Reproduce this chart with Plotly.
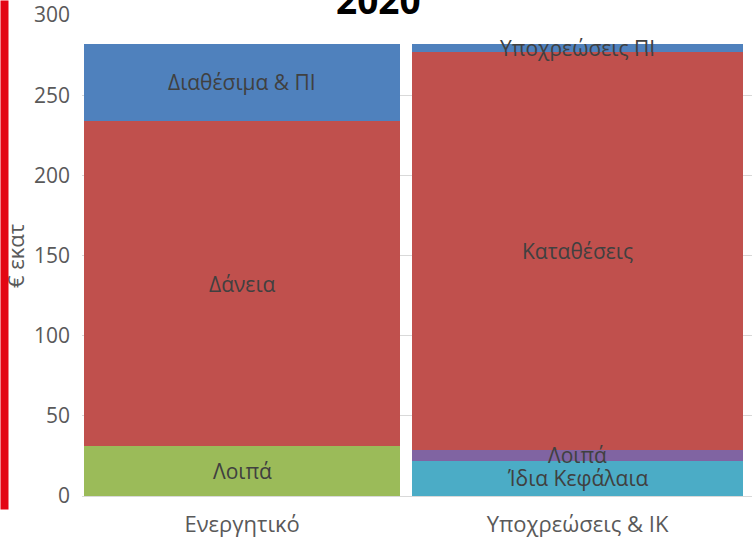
import plotly.graph_objects as go

categories = ["Ενεργητικό", "Υποχρεώσεις & ΙΚ"]
bar_widths = [0.942, 0.987]

# series per bar (bottom to top)
assets_labels = ["Λοιπά", "Δάνεια", "Διαθέσιμα & ΠΙ"]
assets_values = [31, 203, 48]
assets_colors = ["#9BBB59", "#C0504D", "#4F81BD"]

liab_labels = ["Ίδια Κεφάλαια", "Λοιπά", "Καταθέσεις", "Υποχρεώσεις ΠΙ"]
liab_values = [22, 7, 248, 5]
liab_colors = ["#4BACC6", "#8064A2", "#C0504D", "#4F81BD"]

y_ticks = [0, 50, 100, 150, 200, 250, 300]
title_text = "2020"
y_title = "€ εκατ"

FONT = "Open Sans"
fig = go.Figure()

annotations = []

def add_stack(cat_idx, labels, values, colors):
    base = 0
    for lab, val, col in zip(labels, values, colors):
        fig.add_trace(go.Bar(
            x=[categories[cat_idx]], y=[val], base=[base],
            width=[bar_widths[cat_idx]],
            marker=dict(color=col, line=dict(width=0)),
            name=lab, showlegend=False, hoverinfo="skip",
        ))
        annotations.append(dict(
            x=categories[cat_idx], y=base + val / 2, xref="x", yref="y",
            text=lab, showarrow=False,
            font=dict(family=FONT, size=21, color="#404040"),
        ))
        base += val

add_stack(0, assets_labels, assets_values, assets_colors)
add_stack(1, liab_labels, liab_values, liab_colors)

L, R, T, B = 82, 0, 15, 44
W = 752 - L - R
H = 540 - T - B

# y-axis title
annotations.append(dict(
    x=(15 - L) / W, y=0.5 + (255.5 - 256) / H, xref="paper", yref="paper",
    text=y_title, textangle=-90, showarrow=False,
    xanchor="center", yanchor="middle",
    font=dict(family=FONT, size=22, color="#595959"),
))
# red strip on the left (drawn over the axis title)
annotations.append(dict(
    x=(0 - L) / W, y=1 + T / H, xref="paper", yref="paper",
    text=" ", showarrow=False, xanchor="left", yanchor="top",
    width=7, height=508, bgcolor="#E30613", borderpad=0,
))
# title
annotations.append(dict(
    x=(378 - L) / W, y=1, xref="paper", yref="paper",
    text="<b>" + title_text + "</b>", showarrow=False,
    xanchor="center", yanchor="bottom", yshift=-12,
    font=dict(family=FONT, size=37, color="#000000"),
))

fig.update_layout(
    width=752, height=540,
    margin=dict(l=L, r=R, t=T, b=B),
    paper_bgcolor="white", plot_bgcolor="white",
    barmode="overlay", bargap=0,
    annotations=annotations,
    showlegend=False,
    xaxis=dict(
        type="category", range=[-0.477, 1.520],
        showgrid=False, showline=True, linecolor="#D9D9D9", linewidth=1,
        tickfont=dict(family=FONT, size=22, color="#595959"),
        ticks="", ticklabelstandoff=9,
    ),
    yaxis=dict(
        range=[0, 300], tickvals=y_ticks,
        showgrid=True, gridcolor="#D9D9D9", gridwidth=1,
        zeroline=False, showline=False,
        tickfont=dict(family=FONT, size=21, color="#595959"),
        ticks="", ticklabelstandoff=11,
    ),
)

fig.write_html(
    "out.html",
    config={"displayModeBar": False},
    post_script="document.body.style.margin='0';document.body.style.overflow='hidden';",
)
